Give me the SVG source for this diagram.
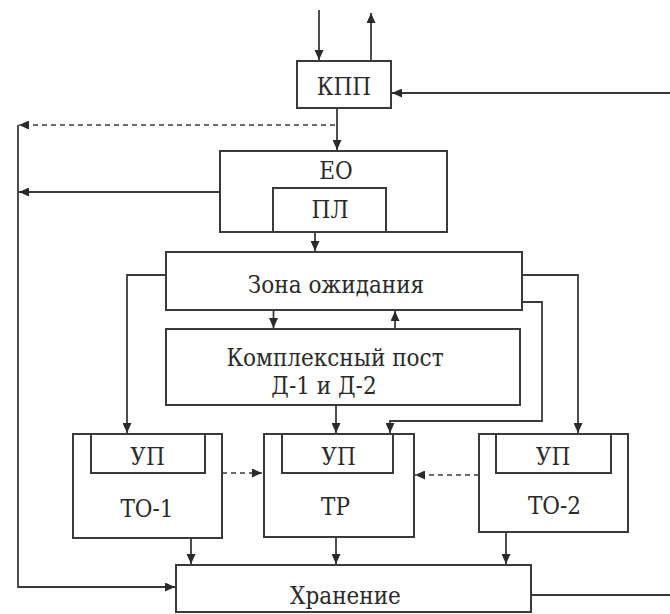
<svg xmlns="http://www.w3.org/2000/svg" width="670" height="614" viewBox="0 0 670 614">
<defs>
<style>
.box{fill:#fff;stroke:#3a3a3a;stroke-width:2}
.ln{fill:none;stroke:#3a3a3a;stroke-width:1.8;marker-end:url(#ah)}
.pl{fill:none;stroke:#3a3a3a;stroke-width:1.8}
.dl{fill:none;stroke:#6a6a6a;stroke-width:2;stroke-dasharray:5 4;marker-end:url(#ah)}
.t{font-family:'DejaVu Serif Condensed','DejaVu Serif',serif;font-stretch:condensed;font-size:24px;fill:#2a2a2a;text-anchor:middle}
</style>
<marker id="ah" markerUnits="userSpaceOnUse" markerWidth="10" markerHeight="9" refX="10" refY="4.5" orient="auto">
<path d="M0,0 L10,4.5 L0,9 Z" fill="#2a2a2a"/>
</marker>
</defs>
<rect width="670" height="614" fill="#fff"/>
<g id="connectors">
<path class="ln" d="M319,10 V60"/>
<path class="ln" d="M371,60 V13"/>
<path class="ln" d="M670,93 H392"/>
<path class="ln" d="M337,108 V150"/>
<path class="dl" d="M335,125 H19"/>
<path class="ln" d="M220,192 H19"/>
<path class="ln" d="M18,125 V587 H175"/>
<path class="ln" d="M315,232 V251"/>
<path class="ln" d="M166,275 H127 V433"/>
<path class="ln" d="M522,275 H578 V433"/>
<path class="ln" d="M522,302 H542 V421 H390 V433"/>
<path class="ln" d="M273.5,310 V328"/>
<path class="ln" d="M395,329 V311"/>
<path class="ln" d="M336,405 V433"/>
<path class="dl" d="M222,473 H262"/>
<path class="dl" d="M479,475 H415"/>
<path class="ln" d="M191,538 V564"/>
<path class="ln" d="M336,537 V564"/>
<path class="ln" d="M506,532 V564"/>
<path class="pl" d="M531,595 H670"/>
</g>
<g id="kpp">
<rect class="box" x="297" y="61" width="94" height="47"/>
<text class="t" x="344" y="95">КПП</text>
</g>
<g id="eo">
<rect class="box" x="220" y="151" width="227" height="81"/>
<text class="t" x="336" y="179">ЕО</text>
</g>
<g id="pl">
<rect class="box" x="273" y="188" width="113" height="44"/>
<text class="t" x="330" y="218">ПЛ</text>
</g>
<g id="zona">
<rect class="box" x="166" y="252" width="356" height="58"/>
<text class="t" x="336" y="293">Зона ожидания</text>
</g>
<g id="komplex">
<rect class="box" x="166" y="329" width="354" height="76"/>
<text class="t" x="335" y="366">Комплексный пост</text>
<text class="t" x="324" y="394">Д-1 и Д-2</text>
</g>
<g id="to1">
<rect class="box" x="73" y="434" width="149" height="104"/>
<rect class="box" x="91" y="434" width="114" height="39"/>
<text class="t" x="147.5" y="465">УП</text>
<text class="t" x="147" y="517">ТО-1</text>
</g>
<g id="tr">
<rect class="box" x="264" y="434" width="150" height="103"/>
<rect class="box" x="282" y="434" width="111" height="39"/>
<text class="t" x="338.5" y="465">УП</text>
<text class="t" x="335.5" y="515">ТР</text>
</g>
<g id="to2">
<rect class="box" x="479" y="434" width="149" height="98"/>
<rect class="box" x="496" y="434" width="115" height="39"/>
<text class="t" x="553" y="465">УП</text>
<text class="t" x="554.5" y="514">ТО-2</text>
</g>
<g id="hranenie">
<rect class="box" x="176" y="565" width="355" height="47"/>
<text class="t" x="345.5" y="604">Хранение</text>
</g>
</svg>
